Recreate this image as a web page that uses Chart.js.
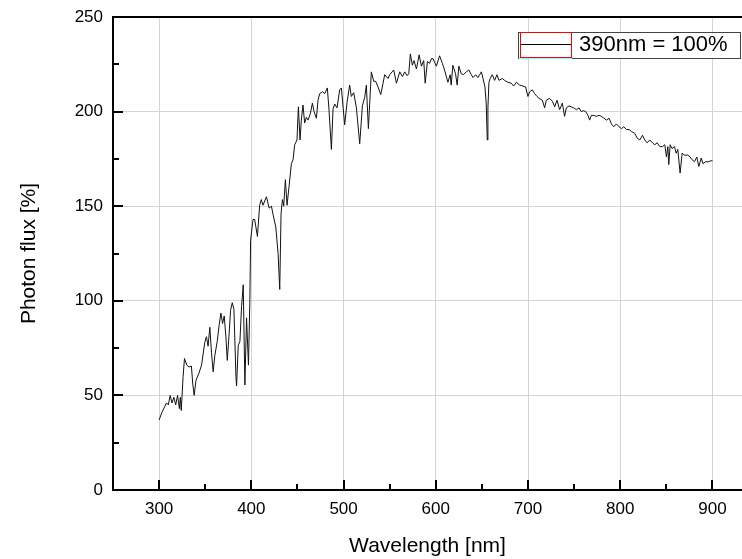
<!DOCTYPE html>
<html>
<head>
<meta charset="utf-8">
<script src="https://cdn.jsdelivr.net/npm/chart.js@4/dist/chart.umd.min.js"></script>
<style>
  html, body { margin: 0; padding: 0; background: #fff; }
  #wrap { width: 742px; height: 559px; position: relative; }
</style>
</head>
<body>
<div id="wrap"><canvas id="fluxChart"></canvas></div>
<script>
// values, nm / % (390nm = 100%)
const wavelengths = [
  300, 303, 306, 308, 310, 312, 314, 316, 318, 320, 322, 323, 324, 326, 327.5, 330, 332.5, 335, 336.5, 338,
  340, 343, 346, 349.5, 351.3, 353.1, 355, 356.8, 358.6, 360.4, 363, 365.2, 367, 368.8, 370.6, 372.4, 373.9, 375.7, 377.5, 379.3,
  381.1, 383.3, 384, 385.8, 387.6, 389.4, 391.2, 393, 394.8, 396.9, 398.4, 399.2, 401.8, 403.6, 406.6, 409, 410.8, 412.6, 416.4, 419.3,
  421.8, 423.6, 426.5, 429, 430.8, 432.2, 433.7, 435.1, 436.9, 438.7, 440.9, 443.4, 445.2, 447, 449.5, 451, 452.8, 454.2, 456, 457.8,
  459.6, 461.5, 464, 466.2, 468, 470.5, 472.3, 474.1, 477, 479.6, 482.4, 484.2, 486.8, 488.6, 490.4, 492.9, 495.8, 497.6, 501.2, 503.8,
  506.6, 508.4, 511, 513.9, 517.5, 520.4, 522.9, 524.7, 526.9, 530.1, 532.7, 534.8, 537.4, 540.3, 542.8, 544.6, 548.2, 550, 554.4, 557.3,
  560.9, 563.8, 566.3, 568.9, 570.7, 572.4, 574.6, 576.4, 579, 581.9, 584.4, 586.9, 588.5, 590.9, 593.3, 595.3, 597, 600.6, 604.1, 607.1,
  609.5, 613.1, 615.6, 616.7, 618.5, 621.4, 623.2, 625, 627.6, 630, 633, 635.9, 638.5, 640.3, 643.2, 645.7, 649.4, 651.2, 653.3, 654.7,
  655.8, 656.5, 657.6, 659, 661.2, 663.8, 666.3, 668.5, 672.1, 674.6, 678.2, 681.8, 684.4, 687.3, 690.9, 694.5, 697.4, 699.9, 701.8, 704.6,
  707.2, 709.7, 711.9, 715.5, 718, 719.8, 723.4, 726.4, 728.9, 731.4, 734.3, 737.2, 739.6, 741.5, 744.4, 747, 749.5, 752.4, 755.3, 757.8,
  760.3, 762.5, 765, 766.8, 768.6, 771.2, 774.1, 777, 779.5, 782.4, 785, 787.9, 790.4, 793, 795.8, 798.7, 801.3, 803.8, 806.7, 809.6,
  812.1, 815.7, 818.3, 821.2, 824.1, 826.6, 829.1, 832, 834.9, 837.4, 840, 842.9, 845.8, 848.3, 850.1, 851.6, 852.6, 854.1, 856.2, 858.8,
  860.6, 862.4, 864.9, 867.1, 869.6, 873.3, 875.8, 878, 880.5, 883, 885.2, 887.8, 889.6, 892.5, 895.4, 898, 900,
];
const flux = [
  37, 41, 44, 46, 45, 50, 46, 49, 45, 50, 43, 49, 42, 60, 69.5, 66, 65, 65.5, 56, 50,
  58, 61.5, 66, 78, 81, 76, 86, 72.5, 62.5, 71, 78.5, 87.5, 93.5, 88, 92, 81, 68.5, 81, 95, 99,
  95.5, 60, 55, 76.5, 78.5, 97, 108.5, 55.5, 91, 66, 100.5, 132, 143, 143, 134, 150.5, 153.5, 150.5, 155, 149,
  150, 145.5, 139, 125, 106, 146, 153.5, 150, 164, 150.5, 160.5, 172.5, 174.5, 182.5, 185, 202.5, 185, 195.5, 203.5, 194,
  197, 195.5, 199, 204.5, 200, 196.5, 206, 209.5, 210.5, 209.5, 212.5, 201, 180, 201.5, 204, 202, 211.5, 212.5, 193, 205,
  214, 208, 210, 202, 183, 203, 207.5, 214, 191, 221, 216, 216, 213, 209, 215, 219.5, 217.5, 219.5, 222, 215,
  221, 218.5, 221, 219, 220, 230.5, 224.5, 227, 222.5, 230, 224, 227, 215, 226.5, 225.5, 228, 228, 224, 229.5, 225.5,
  222, 215.5, 219.5, 214, 224.5, 220, 214, 224, 220, 219.5, 221, 222, 219.5, 218, 219.5, 218, 221, 217.5, 213, 204,
  185, 202, 215.5, 217.5, 219.5, 216.5, 219.5, 216.5, 217.5, 216.5, 215.5, 215, 213.5, 215.5, 214, 213.5, 213, 208, 210.5, 211.5,
  209.5, 208, 207, 206, 202, 206, 207, 205.5, 202.5, 206, 201, 204.5, 197.5, 202, 203, 202.5, 202, 201, 202, 200,
  200.5, 200, 198, 195.5, 198, 198, 197.5, 198, 197.5, 196.5, 195.5, 196.5, 193.5, 192, 193.5, 192, 191, 192, 190.5, 190.5,
  189.5, 188.5, 186, 185, 187.5, 185, 183.5, 185, 183.5, 182.5, 183.5, 181.5, 181.5, 182.5, 176, 181.5, 172, 182.5, 180.5, 181.5,
  178, 180, 167.5, 178, 177, 177, 176, 174.5, 173.5, 176, 171, 175.5, 172.5, 173.5, 173.5, 174, 174,
];
const xTicks = [300, 400, 500, 600, 700, 800, 900];
const yTicks = [0, 50, 100, 150, 200, 250];
const legendLabel = "390nm = 100%";

const FONT = "'Liberation Sans', Arial, sans-serif";

// ── Origin-style frame: top border, inward major/minor ticks ──

const framePlugin = {
  id: "frame",
  afterDraw(chart) {
    const { ctx, chartArea: a, scales } = chart;
    const x = scales.x;
    const y = scales.y;
    ctx.save();
    ctx.strokeStyle = "#000";
    ctx.lineWidth = 2;
    ctx.beginPath();
    ctx.moveTo(a.left - 1, a.top);
    ctx.lineTo(a.right, a.top);
    ctx.stroke();

    for (let v = 300; v <= 900; v += 50) {
      const px = Math.round(x.getPixelForValue(v));
      const len = v % 100 === 0 ? 10 : 6;
      ctx.beginPath();
      ctx.moveTo(px, a.bottom);
      ctx.lineTo(px, a.bottom - len);
      ctx.stroke();
    }
    for (let v = 25; v < 250; v += 25) {
      const py = Math.round(y.getPixelForValue(v));
      const len = v % 50 === 0 ? 10 : 6;
      ctx.beginPath();
      ctx.moveTo(a.left, py);
      ctx.lineTo(a.left + len, py);
      ctx.stroke();
    }
    ctx.restore();
  },
};

const legendPlugin = {
  id: "boxLegend",
  afterDraw(chart) {
    const { ctx } = chart;
    const bx = 518, by = 32, bw = 222, bh = 26;
    ctx.save();
    ctx.fillStyle = "#fff";
    ctx.fillRect(bx, by, bw, bh);
    ctx.strokeStyle = "#444";
    ctx.lineWidth = 1;
    ctx.strokeRect(bx + 0.5, by + 0.5, bw, bh);
    // sample line
    ctx.strokeStyle = "#000";
    ctx.beginPath();
    ctx.moveTo(bx + 2, by + 12.5);
    ctx.lineTo(bx + 54, by + 12.5);
    ctx.stroke();
    ctx.strokeStyle = "#ff0000";
    ctx.strokeRect(bx + 2.5, by + 0.5, 51, 25);
    ctx.strokeStyle = "#80ffff";
    ctx.beginPath();
    ctx.moveTo(bx + 1, by + bh + 0.5);
    ctx.lineTo(bx + 54, by + bh + 0.5);
    ctx.stroke();
    ctx.fillStyle = "#000";
    ctx.font = "22px " + FONT;
    ctx.textBaseline = "middle";
    ctx.fillText(legendLabel, bx + 61, by + 13);
    ctx.restore();
  },
};

function renderChart() {
  const canvas = document.getElementById("fluxChart");
  new Chart(canvas, {
    type: "line",
    data: {
      datasets: [
        {
          label: legendLabel,
          data: wavelengths.map((w, i) => ({ x: w, y: flux[i] })),
          borderColor: "#111",
          borderWidth: 1,
          pointRadius: 0,
          tension: 0,
          fill: false,
        },
      ],
    },
    options: {
      responsive: true,
      maintainAspectRatio: false,
      animation: false,
      layout: { padding: { top: 17, right: 0, left: 0, bottom: 0 } },
      plugins: {
        legend: { display: false },
        tooltip: { enabled: false },
      },
      scales: {
        x: {
          type: "linear",
          min: 250,
          max: 932,
          afterBuildTicks: (scale) => {
            scale.ticks = xTicks.map((v) => ({ value: v }));
          },
          afterFit: (scale) => {
            scale.height = 69;
            scale.paddingLeft = 0;
            scale.paddingRight = 0;
          },
          grid: { color: "#d4d4d4", lineWidth: 1, drawTicks: false },
          border: { display: true, color: "#000", width: 2 },
          ticks: {
            padding: 9,
            color: "#000",
            font: { family: FONT, size: 17 },
          },
          title: {
            display: true,
            text: "Wavelength [nm]",
            color: "#000",
            font: { family: FONT, size: 21 },
            padding: { top: 0, bottom: 0 },
          },
        },
        y: {
          min: 0,
          max: 250,
          afterBuildTicks: (scale) => {
            scale.ticks = yTicks.map((v) => ({ value: v }));
          },
          afterFit: (scale) => {
            scale.width = 113;
            scale.paddingTop = 0;
            scale.paddingBottom = 0;
          },
          grid: {
            color: (c) =>
              c.tick && (c.tick.value === 0 || c.tick.value === 250)
                ? "rgba(0,0,0,0)"
                : "#d4d4d4",
            lineWidth: 1,
            drawTicks: false,
          },
          border: { display: true, color: "#000", width: 2 },
          ticks: {
            padding: 10,
            color: "#000",
            font: { family: FONT, size: 17 },
          },
          title: {
            display: true,
            text: "Photon flux [%]",
            color: "#000",
            font: { family: FONT, size: 21 },
            padding: { top: 17, bottom: 0 },
          },
        },
      },
    },
    plugins: [framePlugin, legendPlugin],
  });
}

renderChart();
</script>
</body>
</html>
